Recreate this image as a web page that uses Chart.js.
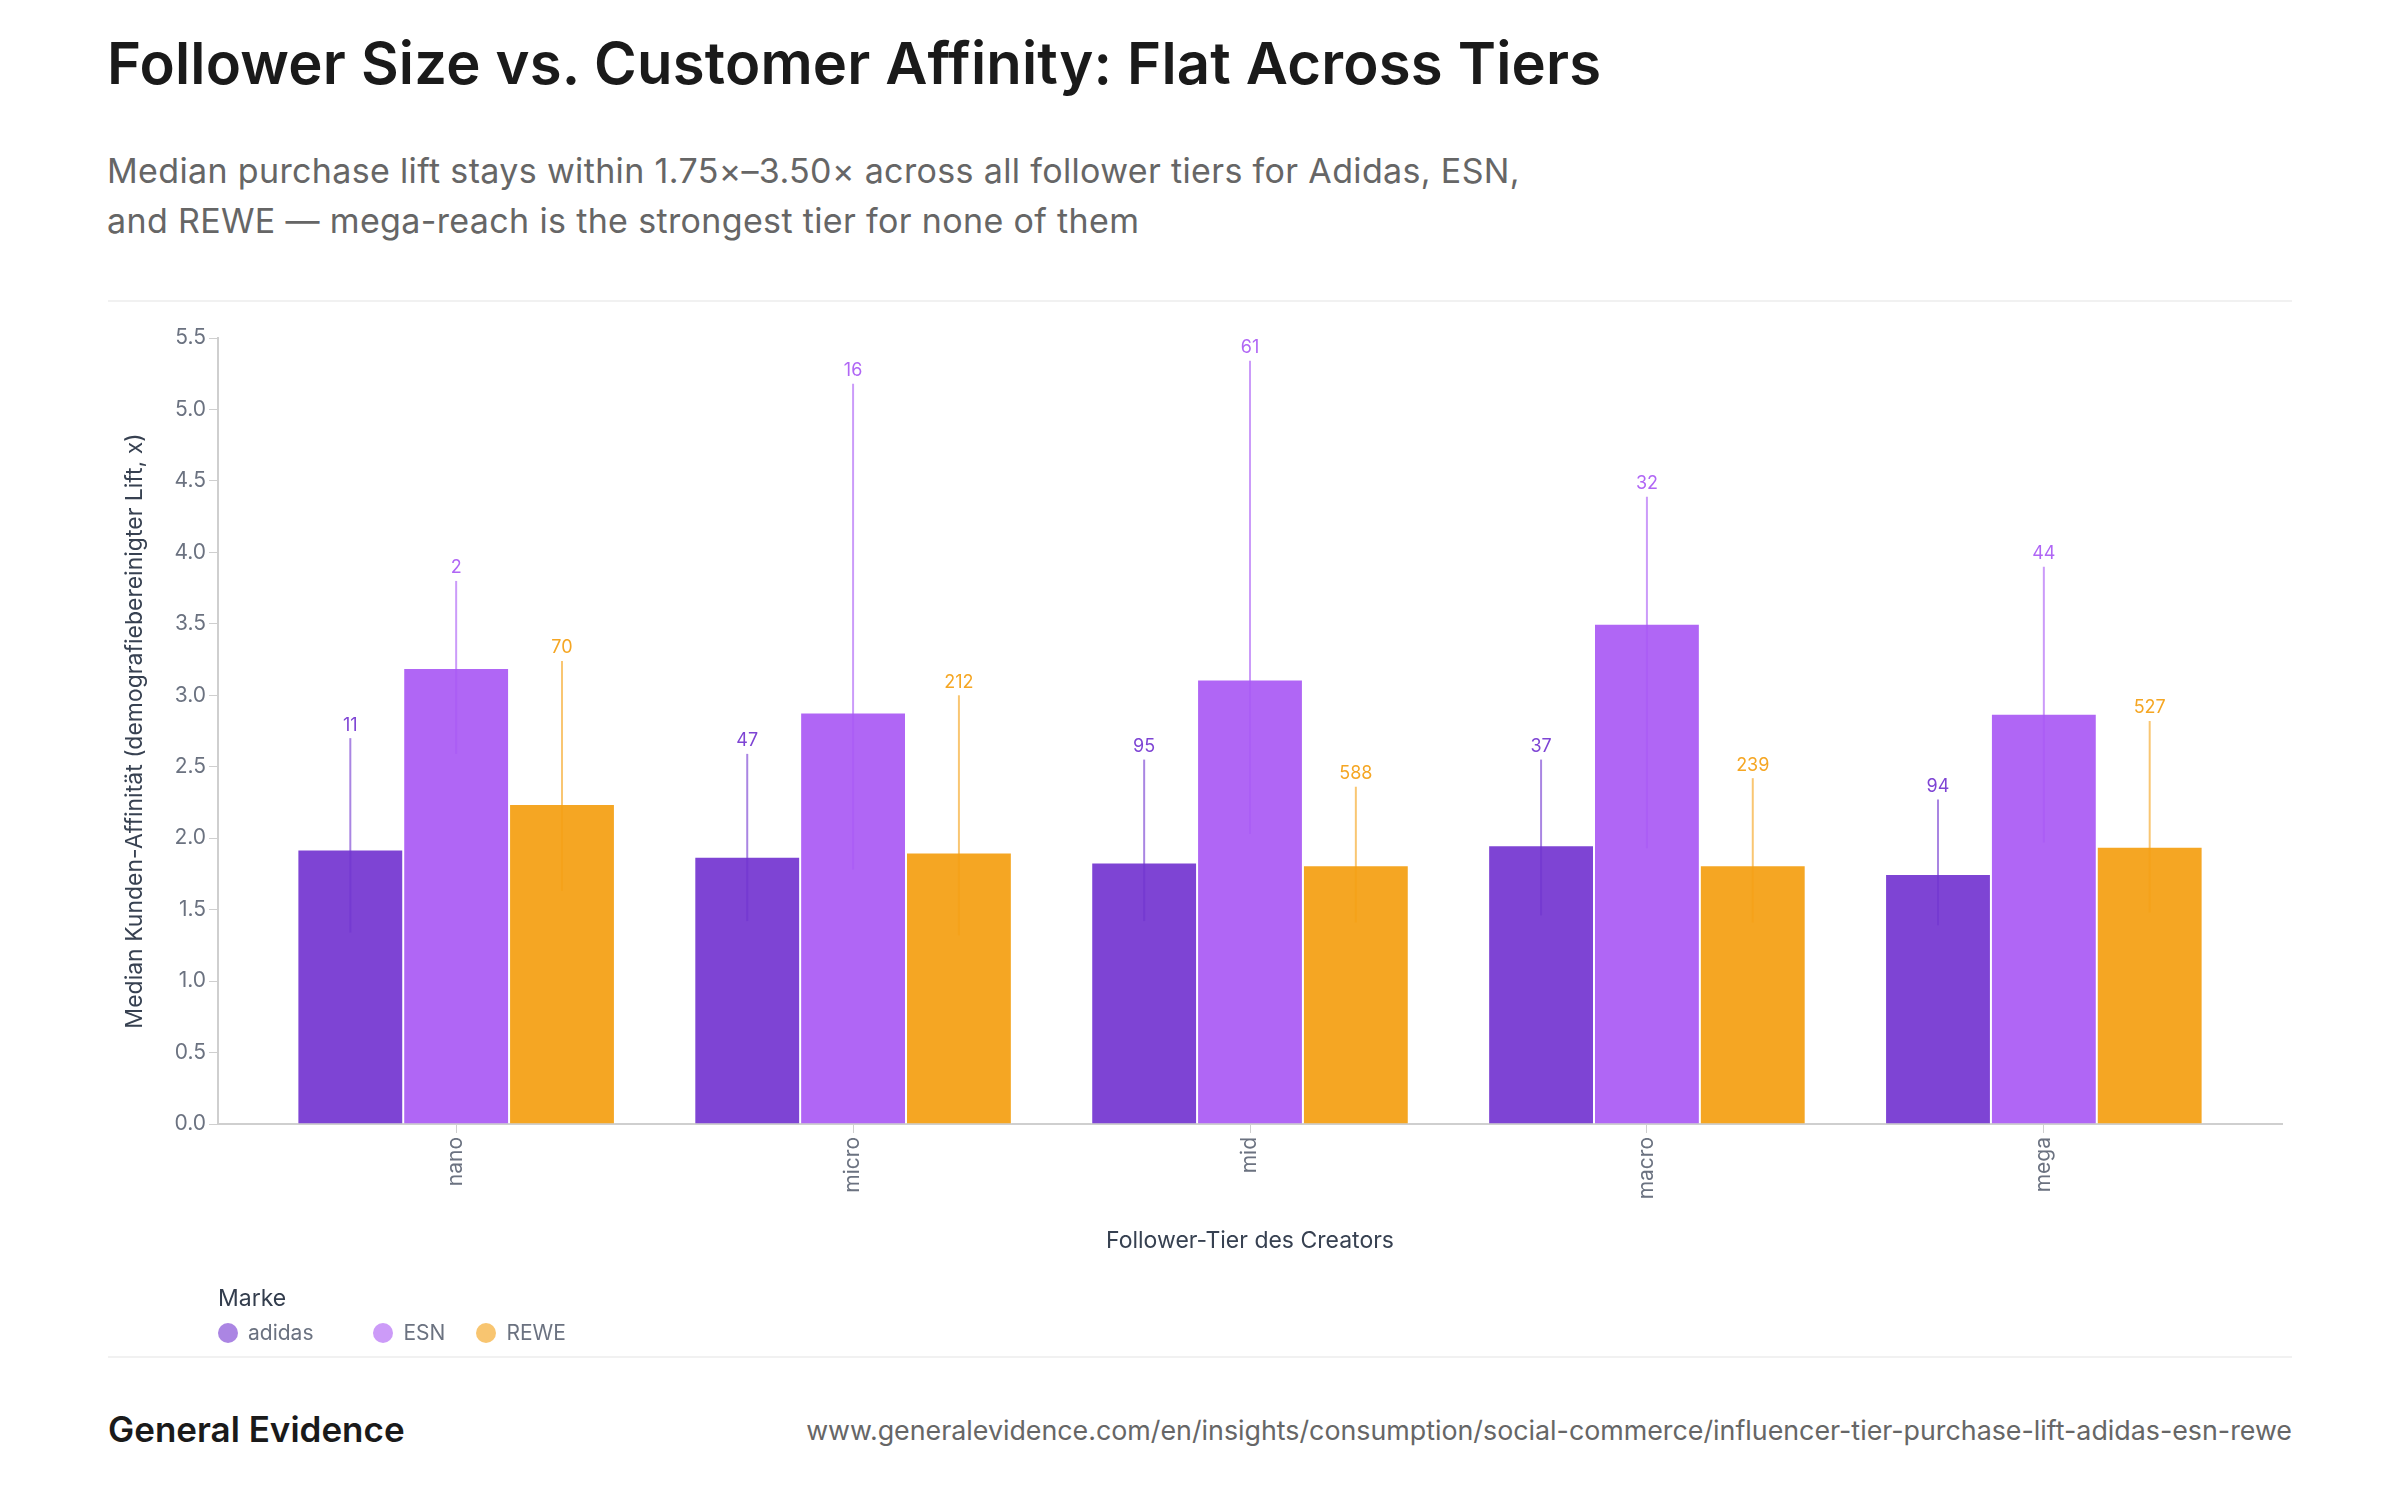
<!DOCTYPE html>
<html lang="en">
<head>
<meta charset="utf-8">
<title>Follower Size vs. Customer Affinity</title>
<script src="https://cdn.jsdelivr.net/npm/chart.js@4.4.1/dist/chart.umd.min.js"></script>
<style>
  html, body { margin: 0; padding: 0; background: #fff; }
  body { width: 2400px; height: 1500px; position: relative; overflow: hidden; font-family: Inter, sans-serif; }
  h1 { position: absolute; left: 107px; top: 34px; margin: 0; font-size: 58px; line-height: 58px; font-weight: 600; letter-spacing: 0.2px; color: #1a1a1a; white-space: nowrap; }
  .sub { position: absolute; left: 107px; top: 146px; margin: 0; font-size: 34px; line-height: 50px; letter-spacing: 0.35px; color: #666; white-space: nowrap; }
  .rule { position: absolute; left: 108px; width: 2184px; height: 2px; background: #f1f1f1; }
  #wrap { position: absolute; left: 0; top: 300px; width: 2400px; height: 1060px; }
  .legend-title { position: absolute; left: 218px; top: 1282px; font-size: 23px; line-height: 32px; color: #333d4d; }
  .legend { position: absolute; left: 218px; top: 1318px; display: flex; font-size: 21px; line-height: 30px; color: #6b7280; }
  .legend span { display: flex; align-items: center; }
  .legend i { display: inline-block; width: 20px; height: 20px; border-radius: 50%; margin-right: 10px; }
  .legend span:nth-child(1) { margin-right: 60px; }
  .legend span:nth-child(2) { margin-right: 31px; }
  .brand { position: absolute; left: 108px; top: 1409px; font-size: 35px; line-height: 40px; font-weight: 600; color: #1a1a1a; }
  .url { position: absolute; right: 108px; top: 1414px; font-size: 26.8px; line-height: 32px; color: #666; }
</style>
</head>
<body>
<h1>Follower Size vs. Customer Affinity: Flat Across Tiers</h1>
<p class="sub">Median purchase lift stays within 1.75×–3.50× across all follower tiers for Adidas, ESN,<br>and REWE — mega-reach is the strongest tier for none of them</p>
<div class="rule" style="top:300px"></div>
<div id="wrap"><canvas id="chart"></canvas></div>
<div class="legend-title">Marke</div>
<div class="legend" id="legend"></div>
<div class="rule" style="top:1356px"></div>
<div class="brand">General Evidence</div>
<div class="url">www.generalevidence.com/en/insights/consumption/social-commerce/influencer-tier-purchase-lift-adidas-esn-rewe</div>

<script>
// Tiers und Marken
const tiers = ['nano', 'micro', 'mid', 'macro', 'mega'];
const brands = ['adidas', 'ESN', 'REWE'];

// Median Lift pro Tier
const adidasMedian = [1.92, 1.87, 1.83, 1.95, 1.75];
const esnMedian = [3.19, 2.88, 3.11, 3.50, 2.87];
const reweMedian = [2.24, 1.90, 1.81, 1.81, 1.94];

// Fehlerbalken (unten / oben)
const adidasLow = [1.34, 1.42, 1.42, 1.46, 1.39];
const adidasHigh = [2.70, 2.59, 2.55, 2.55, 2.27];
const esnLow = [2.59, 1.78, 2.03, 1.93, 1.97];
const esnHigh = [3.80, 5.18, 5.34, 4.39, 3.90];
const reweLow = [1.63, 1.32, 1.41, 1.41, 1.48];
const reweHigh = [3.24, 3.00, 2.36, 2.42, 2.82];

// Anzahl Creator (n)
const adidasN = [11, 47, 95, 37, 94];
const esnN = [2, 16, 61, 32, 44];
const reweN = [70, 212, 588, 239, 527];

// Achse
const yTicks = [0, 0.5, 1, 1.5, 2, 2.5, 3, 3.5, 4, 4.5, 5, 5.5];

const colors = ['#7e44d4', '#b066f5', '#f5a623'];
const whiskerColors = ['rgba(112,52,206,0.6)', 'rgba(168,88,245,0.6)', 'rgba(245,160,20,0.6)'];
const labelColors = ['#7e44d4', '#b066f5', '#f5a623'];
const legendColors = ['rgba(126,68,212,0.65)', 'rgba(176,102,245,0.65)', 'rgba(245,166,35,0.65)'];

const medians = [adidasMedian, esnMedian, reweMedian];
const lows = [adidasLow, esnLow, reweLow];
const highs = [adidasHigh, esnHigh, reweHigh];
const counts = [adidasN, esnN, reweN];

Chart.defaults.font.family = 'Inter, sans-serif';

const datasets = brands.map((b, i) => ({
  label: b,
  data: medians[i].map((v, j) => ({ x: j, y: v })),
  backgroundColor: colors[i],
  borderColor: 'rgba(255,255,255,0.45)',
  borderWidth: 1,
  categoryPercentage: 0.8,
  barPercentage: 1.0
}));

// Fehlerbalken + n-Labels
const whiskers = {
  id: 'whiskers',
  afterDatasetsDraw(chart) {
    const ctx = chart.ctx;
    const yScale = chart.scales.y;
    ctx.save();
    chart.data.datasets.forEach((ds, i) => {
      const meta = chart.getDatasetMeta(i);
      meta.data.forEach((bar, j) => {
        const yHi = yScale.getPixelForValue(highs[i][j]);
        const yLo = yScale.getPixelForValue(lows[i][j]);
        ctx.strokeStyle = whiskerColors[i];
        ctx.lineWidth = 2;
        ctx.beginPath();
        ctx.moveTo(bar.x, yLo);
        ctx.lineTo(bar.x, yHi);
        ctx.stroke();
        ctx.fillStyle = labelColors[i];
        ctx.font = '18px Inter, sans-serif';
        ctx.textAlign = 'center';
        ctx.textBaseline = 'middle';
        ctx.fillText(String(counts[i][j]), bar.x, yHi - 13);
      });
    });
    ctx.restore();
  }
};

new Chart(document.getElementById('chart'), {
  type: 'bar',
  data: { datasets: datasets },
  options: {
    responsive: true,
    maintainAspectRatio: false,
    devicePixelRatio: 1,
    animation: false,
    layout: { padding: { left: 100, right: 118, top: 38, bottom: 105 } },
    plugins: {
      legend: { display: false },
      tooltip: { enabled: false }
    },
    scales: {
      x: {
        type: 'linear',
        min: -0.6,
        max: 4.6,
        offset: false,
        afterFit(scale) { scale.height = 131; },
        grid: { display: true, drawOnChartArea: false, drawTicks: true, tickLength: 9, color: '#cfcfcf', offset: false },
        border: { display: true, color: '#cfcfcf', width: 2 },
        ticks: {
          stepSize: 1,
          includeBounds: false,
          autoSkip: false,
          minRotation: 90,
          maxRotation: 90,
          padding: 4,
          color: '#6b7280',
          font: { size: 21 },
          callback: (v) => tiers[v] !== undefined ? tiers[v] : ''
        },
        title: {
          display: true,
          text: 'Follower-Tier des Creators',
          color: '#374151',
          font: { size: 23 },
          padding: { top: 0, bottom: 0 }
        }
      },
      y: {
        min: 0,
        max: 5.5,
        afterFit(scale) { scale.width = 118; },
        afterBuildTicks(scale) { scale.ticks = yTicks.map(v => ({ value: v })); },
        grid: { display: true, drawOnChartArea: false, drawTicks: true, tickLength: 9, color: '#cfcfcf' },
        border: { display: true, color: '#cfcfcf', width: 2 },
        ticks: {
          padding: 3,
          color: '#6b7280',
          font: { size: 21 },
          callback: (v) => Number(v).toFixed(1)
        },
        title: {
          display: true,
          text: 'Median Kunden-Affinität (demografiebereinigter Lift, x)',
          color: '#374151',
          font: { size: 23 },
          padding: { top: 21, bottom: 0 }
        }
      }
    }
  },
  plugins: [whiskers]
});

// Legende
const legend = document.getElementById('legend');
brands.forEach((b, i) => {
  const item = document.createElement('span');
  const dot = document.createElement('i');
  dot.style.background = legendColors[i];
  item.appendChild(dot);
  item.appendChild(document.createTextNode(b));
  legend.appendChild(item);
});
</script>
</body>
</html>
